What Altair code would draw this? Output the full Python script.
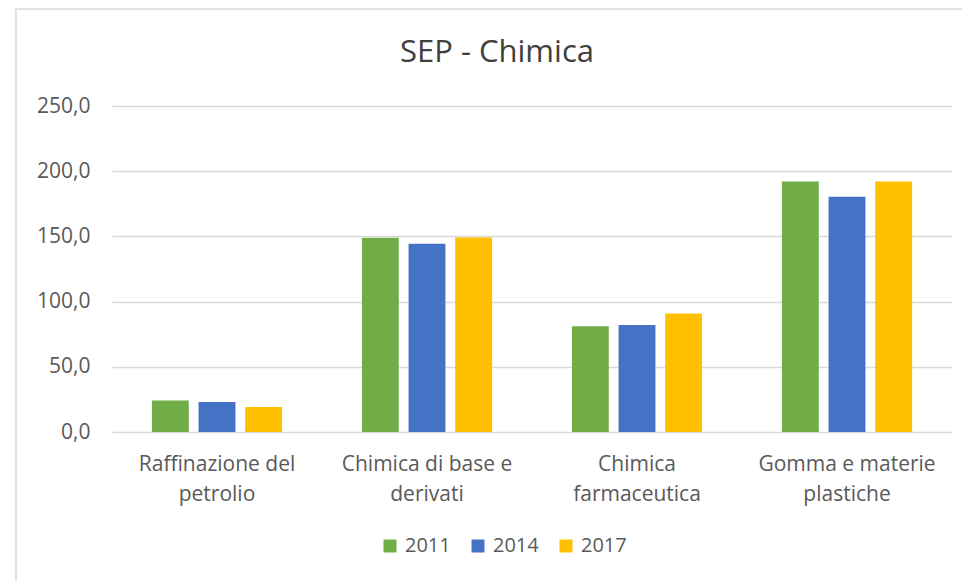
import json
import altair as alt
import pandas as pd

title_text = "SEP - Chimica"
categories = ["Raffinazione del petrolio", "Chimica di base e derivati",
              "Chimica farmaceutica", "Gomma e materie plastiche"]
category_lines = [["Raffinazione del", "petrolio"], ["Chimica di base e", "derivati"],
                  ["Chimica", "farmaceutica"], ["Gomma e materie", "plastiche"]]
years = ["2011", "2014", "2017"]
values_2011 = [24.1, 148.9, 81.1, 192.1]
values_2014 = [23.1, 144.3, 82.1, 180.4]
values_2017 = [19.1, 149.2, 90.8, 192.1]
y_ticks = [0, 50, 100, 150, 200, 250]
colors = ["#70ad47", "#4472c4", "#ffc000"]

rows = []
for yr, vals in zip(years, [values_2011, values_2014, values_2017]):
    for c, v in zip(categories, vals):
        rows.append({"Settore": c, "Anno": yr, "Valore": v})
df = pd.DataFrame(rows)

label_map = json.dumps(dict(zip(categories, category_lines)))
FONT = "Open Sans"
GREY = "#595959"

bars = alt.Chart(df).mark_bar().encode(
    x=alt.X("Settore:N", sort=categories, title=None,
            scale=alt.Scale(paddingInner=0.38, paddingOuter=0.19),
            axis=alt.Axis(labelAngle=0, labelExpr=f"{label_map}[datum.label]",
                          labelFontSize=21, labelColor=GREY, labelFont=FONT,
                          labelLineHeight=30, labelPadding=21, ticks=False,
                          domain=False, labelBaseline="top")),
    xOffset=alt.XOffset("Anno:N", sort=years,
                        scale=alt.Scale(paddingInner=0.21, paddingOuter=0)),
    y=alt.Y("Valore:Q", title=None,
            scale=alt.Scale(domain=[0, 250]),
            axis=alt.Axis(values=y_ticks,
                          labelExpr="replace(format(datum.value, '.1f'), '.', ',')",
                          labelFontSize=21, labelColor=GREY, labelFont=FONT,
                          labelPadding=22, ticks=False, domain=False,
                          gridColor="#d9d9d9", gridWidth=1.5)),
    color=alt.Color("Anno:N", sort=years,
                    scale=alt.Scale(domain=years, range=colors),
                    legend=alt.Legend(title=None, orient="none", direction="horizontal",
                                      legendX=268, legendY=430,
                                      symbolType="square", symbolSize=169,
                                      symbolStrokeWidth=0, labelFontSize=20,
                                      labelColor=GREY, labelFont=FONT,
                                      columnPadding=17, labelOffset=5)),
)

frame = alt.Chart(pd.DataFrame({"f": [0]})).mark_rect(
    fill=None, stroke="#d9d9d9", strokeWidth=1.5
).encode(x=alt.value(-96), y=alt.value(-97), x2=alt.value(900), y2=alt.value(500))

title = alt.Chart(pd.DataFrame({"t": [title_text]})).mark_text(
    font=FONT, fontSize=31, color="#404040", align="center", baseline="alphabetic"
).encode(text="t:N", x=alt.value(385), y=alt.value(-44))

chart = alt.layer(frame, bars, title).properties(
    width=840, height=326,
    autosize=alt.AutoSizeParams(type="none"),
    padding={"left": 104, "top": 98, "right": 10, "bottom": 160},
).configure(background="white").configure_view(stroke=None)

chart.save("out.html", embed_options={"renderer": "svg", "actions": False})
